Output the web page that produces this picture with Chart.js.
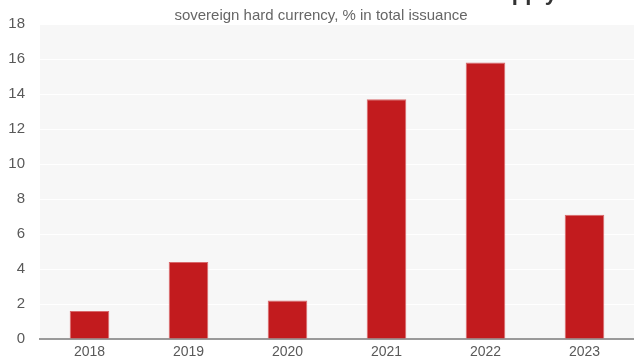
<!DOCTYPE html>
<html>
<head>
<meta charset="utf-8">
<script src="https://cdn.jsdelivr.net/npm/chart.js@4/dist/chart.umd.min.js"></script>
<style>
  body { margin: 0; background: #fff; }
  #wrap { width: 634px; height: 363px; position: relative; }
</style>
</head>
<body>
<div id="wrap"><canvas id="issuance"></canvas></div>
<script>
// data
const years = ["2018", "2019", "2020", "2021", "2022", "2023"];
const sharePct = [1.6, 4.4, 2.2, 13.7, 15.8, 7.1];
const yTicks = [0, 2, 4, 6, 8, 10, 12, 14, 16, 18];

const titleText = "ESG share in EM bond supply";
const subtitleText = "sovereign hard currency, % in total issuance";

// grey plot area behind the bars
const plotBackground = {
  id: "plotBackground",
  beforeDraw(chart) {
    const { ctx, chartArea } = chart;
    ctx.save();
    ctx.fillStyle = "#f7f7f7";
    ctx.fillRect(chartArea.left, chartArea.top, chartArea.right - chartArea.left, chartArea.bottom - chartArea.top);
    ctx.restore();
  }
};

// big headline sitting at the very top edge
const headline = {
  id: "headline",
  afterDraw(chart) {
    const ctx = chart.ctx;
    ctx.save();
    ctx.font = "bold 22px 'Liberation Sans', Arial, sans-serif";
    ctx.fillStyle = "#333";
    ctx.textAlign = "right";
    ctx.textBaseline = "alphabetic";
    ctx.fillText(titleText, 557, 0);
    ctx.restore();
  }
};

const ctx = document.getElementById("issuance").getContext("2d");
new Chart(ctx, {
  type: "bar",
  data: {
    labels: years,
    datasets: [{
      data: sharePct,
      backgroundColor: "#c21b1e",
      borderColor: "#d8696b",
      borderWidth: 1,
      barPercentage: 0.4,
      categoryPercentage: 1.0,
    }],
  },
  options: {
    responsive: true,
    maintainAspectRatio: false,
    animation: false,
    layout: { padding: { left: 8, right: 0, top: 0, bottom: 2 } },
    plugins: {
      legend: { display: false },
      tooltip: { enabled: false },
      subtitle: {
        display: true,
        text: subtitleText,
        color: "#666",
        font: { family: "'Liberation Sans', Arial, sans-serif", size: 15, lineHeight: 1.1 },
        padding: { top: 2, bottom: 0 },
      },
    },
    scales: {
      x: {
        grid: { display: false, drawTicks: false },
        border: { display: true, color: "#9a9a9a", width: 2 },
        ticks: {
          color: "#595959",
          padding: 5,
          font: { family: "'Liberation Sans', Arial, sans-serif", size: 14 },
        },
        afterFit(scale) {
          scale.height = 22;
        },
      },
      y: {
        min: 0,
        max: 18,
        afterBuildTicks(axis) {
          axis.ticks = yTicks.map(v => ({ value: v }));
        },
        grid: { color: "#ffffff", lineWidth: 1, drawTicks: false },
        border: { display: false },
        ticks: {
          color: "#595959",
          padding: 15,
          font: { family: "'Liberation Sans', Arial, sans-serif", size: 15 },
        },
        afterFit(scale) {
          scale.width = 32;
        },
      },
    },
  },
  plugins: [plotBackground, headline],
});
</script>
</body>
</html>
